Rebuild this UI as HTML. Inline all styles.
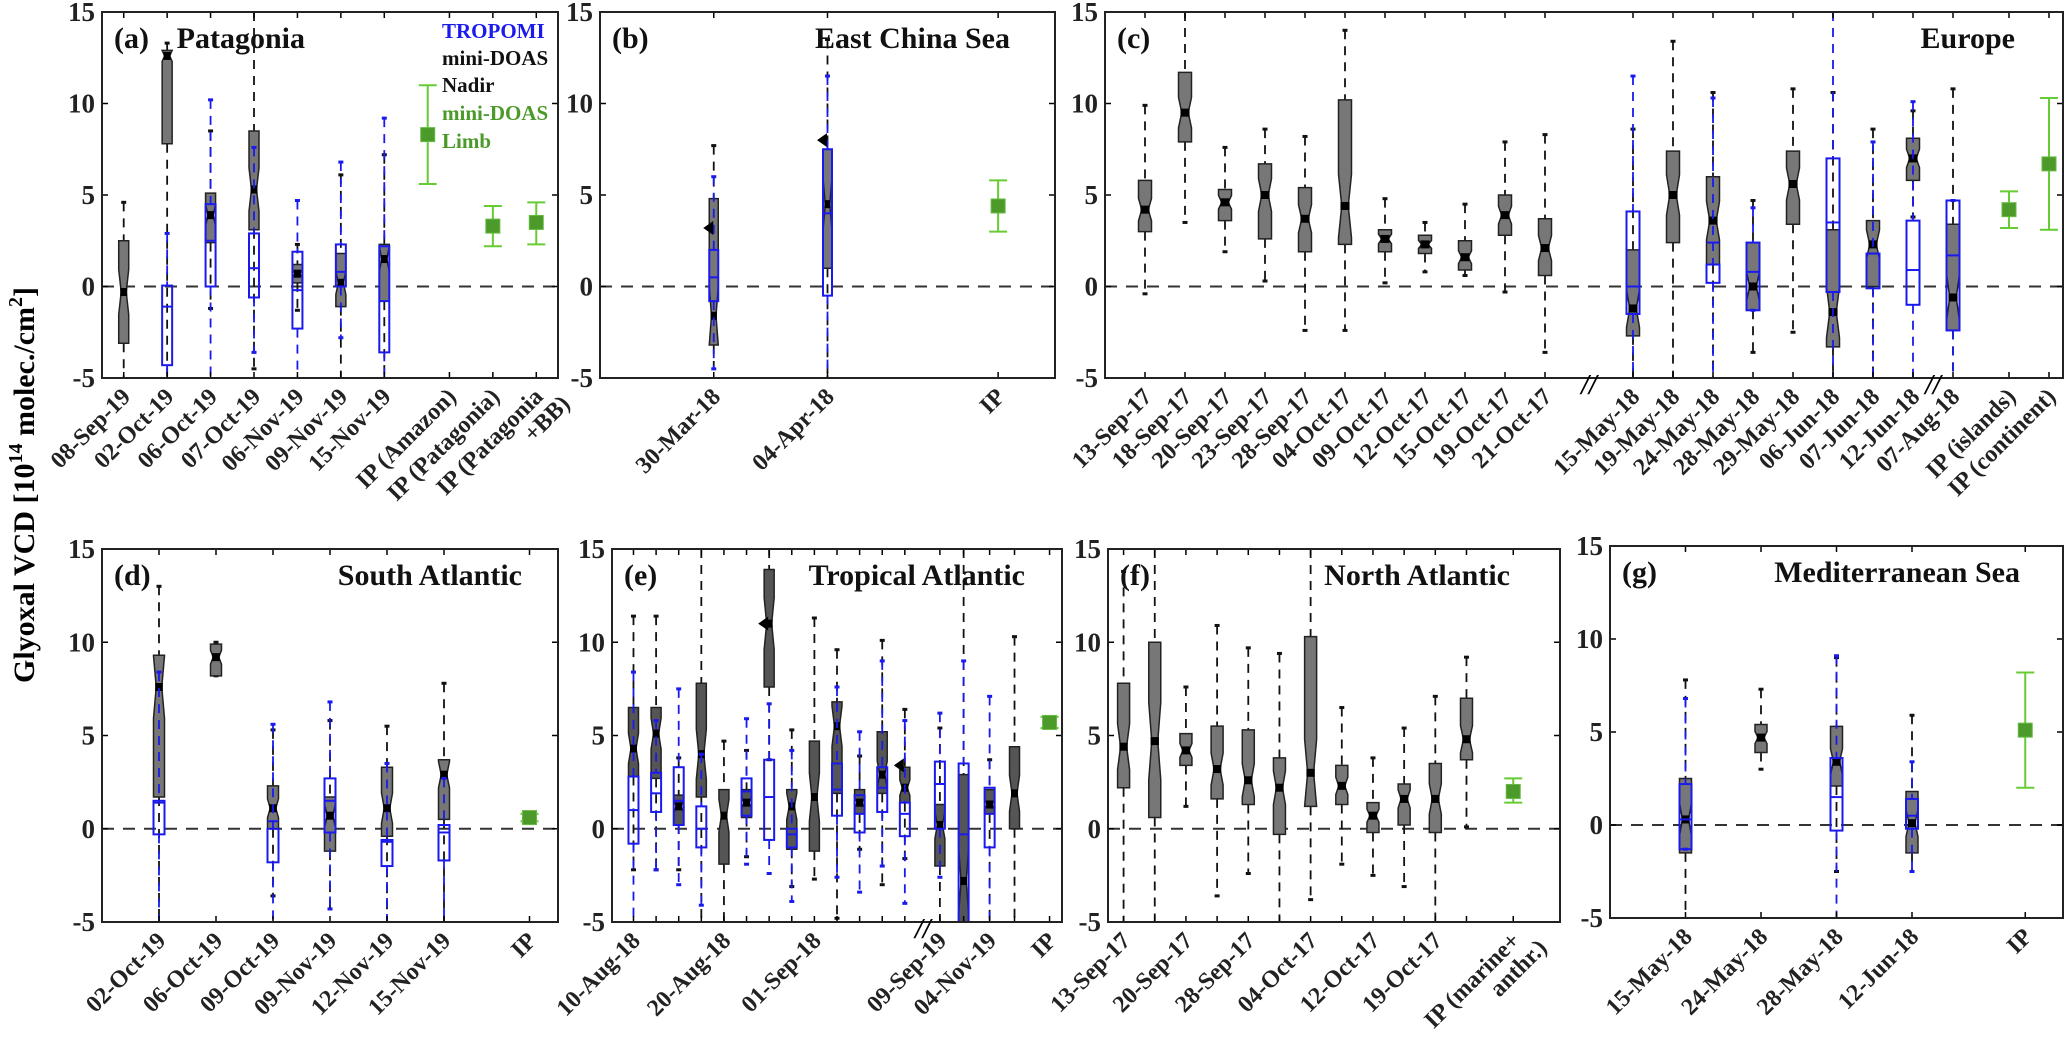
<!DOCTYPE html>
<html><head><meta charset="utf-8"><style>
html,body{margin:0;padding:0;background:#fff;}
svg{display:block;font-family:"Liberation Serif",serif;font-weight:bold;}
</style></head><body>
<svg id="chart" width="2067" height="1057" viewBox="0 0 2067 1057" xmlns="http://www.w3.org/2000/svg">
<text transform="translate(34,683) rotate(-90)" font-size="30" fill="#000">Glyoxal VCD [10<tspan font-size="20" dy="-12">14</tspan><tspan dy="12"> molec./cm</tspan><tspan font-size="20" dy="-12">2</tspan><tspan dy="12">]</tspan></text>
</svg>
<script>
// ---------- DATA ----------
// Panel (a) Patagonia
const aLabels=["08-Sep-19","02-Oct-19","06-Oct-19","07-Oct-19","06-Nov-19","09-Nov-19","15-Nov-19"];
const aPos=[1,2,3,4,5,6,7];
const aQ1=[-3.1,7.8,2.4,3.1,0.2,-1.1,-0.8];
const aMed=[-0.3,12.6,3.9,5.3,0.7,0.2,1.5];
const aQ3=[2.5,12.9,5.1,8.5,1.2,1.8,2.3];
const aLo=[-5,-5,-1.2,-4.5,-1.3,-5,-5];
const aHi=[4.6,13.3,8.5,15,2.3,6.1,7.2];
const aBQ1=[null,-4.3,0,-0.6,-2.3,0,-3.6];
const aBMed=[null,-1.1,2.5,1.0,-0.2,0.8,-0.8];
const aBQ3=[null,0.05,4.5,2.9,1.9,2.3,2.2];
const aBLo=[null,-5,-5,-3.6,-5,-2.8,-5];
const aBHi=[null,2.9,10.2,7.6,4.7,6.8,9.2];
const aIPLabels=[["IP (Amazon)"],["IP (Patagonia)"],["IP (Patagonia","+BB)"]];
const aIPPos=[8.5,9.5,10.5];
const aIPMarkPos=[8.0,9.5,10.5];
const aIPVal=[8.3,3.3,3.5];
const aIPLo=[5.6,2.2,2.3];
const aIPHi=[11.0,4.4,4.6];
// Panel (b) East China Sea
const bLabels=["30-Mar-18","04-Apr-18"];
const bPos=[1,2];
const bQ1=[-3.2,1.0];
const bMed=[-1.6,4.5];
const bQ3=[4.8,7.5];
const bLo=[-5,-5];
const bHi=[7.7,13.5];
const bBQ1=[-0.8,-0.5];
const bBMed=[0.5,4.0];
const bBQ3=[2.0,7.5];
const bBLo=[-4.5,-5];
const bBHi=[6.0,11.5];
const bTri=[3.2,8.0];
const bIPLabels=[["IP"]];
const bIPPos=[3.5];
const bIPVal=[4.4];
const bIPLo=[3.0];
const bIPHi=[5.8];
// Panel (c) Europe
const cLabels=["13-Sep-17","18-Sep-17","20-Sep-17","23-Sep-17","28-Sep-17","04-Oct-17","09-Oct-17","12-Oct-17","15-Oct-17","19-Oct-17","21-Oct-17","15-May-18","19-May-18","24-May-18","28-May-18","29-May-18","06-Jun-18","07-Jun-18","12-Jun-18","07-Aug-18"];
const cPos=[1,2,3,4,5,6,7,8,9,10,11,13.2,14.2,15.2,16.2,17.2,18.2,19.2,20.2,21.2];
const cQ1=[3.0,7.9,3.6,2.6,1.9,2.3,1.9,1.8,0.9,2.8,0.6,-2.7,2.4,1.2,-1.3,3.4,-3.3,0.0,5.8,-2.4];
const cMed=[4.2,9.5,4.6,5.0,3.7,4.4,2.6,2.3,1.6,3.9,2.1,-1.2,5.0,3.6,0.0,5.6,-1.4,2.3,7.0,-0.6];
const cQ3=[5.8,11.7,5.3,6.7,5.4,10.2,3.1,2.8,2.5,5.0,3.7,2.0,7.4,6.0,2.4,7.4,3.1,3.6,8.1,3.4];
const cLo=[-0.4,3.5,1.9,0.3,-2.4,-2.4,0.2,0.8,0.6,-0.3,-3.6,-5,-5,-5,-3.6,-2.5,-5,-5,3.8,-5];
const cHi=[9.9,15,7.6,8.6,8.2,14.0,4.8,3.5,4.5,7.9,8.3,8.6,13.4,10.6,4.7,10.8,10.6,8.6,9.6,10.8];
const cBQ1=[null,null,null,null,null,null,null,null,null,null,null,-1.5,null,0.2,-1.3,null,-0.3,-0.1,-1.0,-2.4];
const cBMed=[null,null,null,null,null,null,null,null,null,null,null,0,null,2.4,0.8,null,3.5,1.8,0.9,1.7];
const cBQ3=[null,null,null,null,null,null,null,null,null,null,null,4.1,null,1.2,2.4,null,7.0,1.8,3.6,4.7];
const cBLo=[null,null,null,null,null,null,null,null,null,null,null,-5,null,-5,-1.3,null,-5,-5,-5,-5];
const cBHi=[null,null,null,null,null,null,null,null,null,null,null,11.5,null,10.3,4.3,null,15,7.9,10.1,4.7];
const cIPLabels=[["IP (islands)"],["IP (continent)"]];
const cIPPos=[22.6,23.6];
const cIPVal=[4.2,6.7];
const cIPLo=[3.2,3.1];
const cIPHi=[5.2,10.3];
// Panel (d) South Atlantic
const dLabels=["02-Oct-19","06-Oct-19","09-Oct-19","09-Nov-19","12-Nov-19","15-Nov-19"];
const dPos=[1,2,3,4,5,6];
const dQ1=[1.7,8.2,0.0,-1.2,-0.4,0.5];
const dMed=[7.6,9.2,1.1,0.7,1.1,2.9];
const dQ3=[9.3,9.9,2.3,1.7,3.3,3.7];
const dLo=[-5,8.2,-3.6,-4.3,-5,-5];
const dHi=[13.0,10.0,5.3,5.8,5.5,7.8];
const dBQ1=[-0.3,null,-1.8,-0.2,-2.0,-1.7];
const dBMed=[1.4,null,0.4,1.5,-0.7,-0.2];
const dBQ3=[1.5,null,0.0,2.7,-0.6,0.2];
const dBLo=[-5,null,-5,-4.3,-5,-5];
const dBHi=[8.4,null,5.6,6.8,3.5,2.7];
const dIPLabels=[["IP"]];
const dIPPos=[7.5];
const dIPVal=[0.6];
const dIPLo=[0.4];
const dIPHi=[0.8];
// Panel (e) Tropical Atlantic
const eLabels=["10-Aug-18","","","","20-Aug-18","","","","01-Sep-18","","","","","09-Sep-19","","04-Nov-19",""];
const ePos=[1,2,3,4,5,6,7,8,9,10,11,12,13,14.55,15.6,16.75,17.85];
const eQ1=[2.8,2.7,0.2,1.7,-1.9,0.6,7.6,-1.1,-1.2,1.9,0.8,1.9,1.4,-2.0,-5,0.8,0.0];
const eMed=[4.3,5.1,1.2,4.0,0.7,1.4,11.0,1.2,1.7,5.5,1.4,2.9,2.2,0.2,-2.8,1.3,1.9];
const eQ3=[6.5,6.5,1.8,7.8,2.1,2.1,13.9,2.1,4.7,6.8,2.1,5.2,3.3,1.3,2.9,2.1,4.4];
const eLo=[-2.2,-2.2,-2.2,-5,-5,-1.5,3.7,-3.1,-2.7,-4.8,-1.1,-3.0,-1.6,-5,-5,-5,-5];
const eHi=[11.4,11.4,3.8,15,4.7,4.2,15,5.3,11.3,9.6,3.9,10.1,6.4,5.4,15,3.7,10.3];
const eBQ1=[-0.8,0.9,0.2,-1.0,null,0.7,-0.6,-1.0,null,0.7,-0.2,0.9,-0.4,0.0,-5,-1.0,null];
const eBMed=[1.0,1.9,1.5,0.0,null,2.0,1.7,-0.3,null,2.1,0.8,2.2,0.8,2.4,-0.3,0.8,null];
const eBQ3=[2.8,3.0,3.3,1.2,null,2.7,3.7,0.0,null,3.5,1.8,3.3,1.4,3.6,3.5,2.2,null];
const eBLo=[-5,-2.2,-3.0,-4.1,null,-1.9,-2.4,-3.9,null,-2.6,-3.4,-2.0,-4.0,-2.6,-5,-5,null];
const eBHi=[8.4,5.8,7.5,4.0,null,5.9,6.7,4.2,null,7.6,5.2,9.0,5.8,6.2,9.0,7.1,null];
const eTri=[null,null,null,null,null,null,11.0,null,null,null,null,null,3.4,null,null,null,null];
const eIPLabels=[["IP"]];
const eIPPos=[19.4];
const eIPVal=[5.7];
const eIPLo=[5.4];
const eIPHi=[6.0];
// Panel (f) North Atlantic
const fLabels=["13-Sep-17","","20-Sep-17","","28-Sep-17","","04-Oct-17","","12-Oct-17","","19-Oct-17",""];
const fPos=[1,2,3,4,5,6,7,8,9,10,11,12];
const fQ1=[2.2,0.6,3.4,1.6,1.3,-0.3,1.2,1.3,-0.2,0.2,-0.2,3.7];
const fMed=[4.4,4.7,4.2,3.2,2.6,2.2,3.0,2.3,0.7,1.6,1.6,4.8];
const fQ3=[7.8,10.0,5.1,5.5,5.3,3.8,10.3,3.4,1.4,2.4,3.5,7.0];
const fLo=[-5,-5,1.2,-3.6,-2.4,-5,-3.8,-1.9,-2.5,-3.1,-5,0.1];
const fHi=[13.8,15,7.6,10.9,9.7,9.4,15,6.5,3.8,5.4,7.1,9.2];
const fIPLabels=[["IP (marine+","anthr.)"]];
const fIPPos=[13.5];
const fIPVal=[2.0];
const fIPLo=[1.4];
const fIPHi=[2.7];
// Panel (g) Mediterranean Sea
const gLabels=["15-May-18","24-May-18","28-May-18","12-Jun-18"];
const gPos=[1,2,3,4];
const gQ1=[-1.5,3.9,2.1,-1.5];
const gMed=[0.3,4.7,3.4,0.1];
const gQ3=[2.5,5.4,5.3,1.8];
const gLo=[-5,3.0,-2.5,-2.5];
const gHi=[7.8,7.3,9.0,5.9];
const gBQ1=[-1.3,null,-0.3,-0.2];
const gBMed=[0.3,null,1.5,0.5];
const gBQ3=[2.2,null,3.6,1.4];
const gBLo=[-1.3,null,-5,-2.5];
const gBHi=[6.8,null,9.1,3.4];
const gIPLabels=[["IP"]];
const gIPPos=[5.5];
const gIPVal=[5.1];
const gIPLo=[2.0];
const gIPHi=[8.2];
const yTicks=[15,10,5,0,-5];

// ---------- DRAWING ----------
const NS="http://www.w3.org/2000/svg";
const svg=document.getElementById('chart');
function mk(tag,attrs,parent){const e=document.createElementNS(NS,tag);for(const k in attrs)e.setAttribute(k,attrs[k]);(parent||svg).appendChild(e);return e;}
const clip=v=>Math.max(-5,Math.min(15,v));

function panel(cfg){
  const g=mk('g',{});
  
  
  const X=v=>cfg.x0+(v-cfg.xmin)/(cfg.xmax-cfg.xmin)*(cfg.x1-cfg.x0);
  const Y=v=>cfg.y1-(clip(v)+5)/20*(cfg.y1-cfg.y0);
  const zl=mk('line',{x1:cfg.x0,x2:cfg.x1,y1:Y(0),y2:Y(0),stroke:'#333','stroke-width':2,'stroke-dasharray':'12,9'},g);
  
  
  yTicks.forEach(t=>{
    mk('line',{x1:cfg.x0,x2:cfg.x0+6,y1:Y(t),y2:Y(t),stroke:'#000','stroke-width':1.5},g);
    mk('line',{x1:cfg.x1,x2:cfg.x1-6,y1:Y(t),y2:Y(t),stroke:'#000','stroke-width':1.5},g);
    const tl=mk('text',{x:cfg.x0-7,y:Y(t)+9,'text-anchor':'end','font-size':27,fill:'#222'},g);
    tl.textContent=t;
    
    
  });
  const bw=cfg.bw;
  function whisk(x,lo,hi,q1,q3,col){
    mk('line',{x1:x,x2:x,y1:Y(hi),y2:Y(q3),stroke:col,'stroke-width':1.8,'stroke-dasharray':'9,7'},g);
    mk('line',{x1:x,x2:x,y1:Y(q1),y2:Y(lo),stroke:col,'stroke-width':1.8,'stroke-dasharray':'9,7'},g);
    if(hi<15) mk('line',{x1:x-2.5,x2:x+2.5,y1:Y(hi),y2:Y(hi),stroke:col,'stroke-width':3},g);
    if(lo>-5) mk('line',{x1:x-2.5,x2:x+2.5,y1:Y(lo),y2:Y(lo),stroke:col,'stroke-width':3},g);
  }
  function notched(x,q1,med,q3){
    const n=Math.min(0.22*(q3-q1),med-q1,q3-med);
    const h=bw/2,hi=bw/4;
    return [[x-h,Y(q1)],[x+h,Y(q1)],[x+h,Y(med-n)],[x+hi,Y(med)],[x+h,Y(med+n)],[x+h,Y(q3)],[x-h,Y(q3)],[x-h,Y(med+n)],[x-hi,Y(med)],[x-h,Y(med-n)]].map(p=>p.join(',')).join(' ');
  }
  cfg.pos.forEach((p,i)=>{
    const x=X(p);
    whisk(x,cfg.lo[i],cfg.hi[i],cfg.q1[i],cfg.q3[i],'#111');
    const b=mk('polygon',{points:notched(x,cfg.q1[i],cfg.med[i],cfg.q3[i]),fill:cfg.fill,stroke:'#222','stroke-width':1.5},g);
    
    
    mk('rect',{x:x-bw*0.35,y:Y(cfg.med[i])-4,width:bw*0.7,height:8,fill:'#000'},g);
  });
  if(cfg.bq1) cfg.pos.forEach((p,i)=>{
    if(cfg.bq1[i]===null) return;
    const x=X(p);
    const lo=Math.min(cfg.bq1[i],cfg.bq3[i]),hi=Math.max(cfg.bq1[i],cfg.bq3[i]);
    whisk(x,cfg.blo[i],cfg.bhi[i],lo,hi,'#1a1aee');
    const b=mk('rect',{x:x-bw/2,y:Y(hi),width:bw,height:Math.max(1,Y(lo)-Y(hi)),fill:'none',stroke:'#1a1aee','stroke-width':2},g);
    
    
    mk('line',{x1:x-bw/2,x2:x+bw/2,y1:Y(cfg.bmed[i]),y2:Y(cfg.bmed[i]),stroke:'#1a1aee','stroke-width':2},g);
  });
  if(cfg.tri) cfg.tri.forEach((v,i)=>{
    if(v===null) return;
    const x=X(cfg.pos[i])-bw/2,y=Y(v);
    mk('polygon',{points:`${x-6},${y} ${x+4},${y-7} ${x+4},${y+7}`,fill:'#000'},g);
  });
  const markPos=cfg.ipMarkPos||cfg.ipPos;
  markPos.forEach((p,i)=>{
    const x=X(p);
    mk('line',{x1:x,x2:x,y1:Y(cfg.ipHi[i]),y2:Y(cfg.ipLo[i]),stroke:'#66cc33','stroke-width':2},g);
    mk('line',{x1:x-9,x2:x+9,y1:Y(cfg.ipHi[i]),y2:Y(cfg.ipHi[i]),stroke:'#66cc33','stroke-width':2},g);
    mk('line',{x1:x-9,x2:x+9,y1:Y(cfg.ipLo[i]),y2:Y(cfg.ipLo[i]),stroke:'#66cc33','stroke-width':2},g);
    const m=mk('rect',{x:x-7,y:Y(cfg.ipVal[i])-7,width:14,height:14,fill:'#4c9a2a',stroke:'#66bb44','stroke-width':1},g);
    
    
  });
  const allPos=cfg.pos.concat(cfg.ipPos);
  const allLab=cfg.labels.map(l=>[l]).concat(cfg.ipLabels);
  allPos.forEach((p,i)=>{
    const x=X(p);
    mk('line',{x1:x,x2:x,y1:cfg.y1,y2:cfg.y1-6,stroke:'#000','stroke-width':1.5},g);
    mk('line',{x1:x,x2:x,y1:cfg.y0,y2:cfg.y0+6,stroke:'#000','stroke-width':1.5},g);
    const lab=allLab[i];
    if(!lab[0]) return;
    const t=mk('text',{transform:`translate(${x+8},${cfg.y1+20}) rotate(-45)`,'text-anchor':'end','font-size':24,fill:'#222'},g);
    
    
    lab.forEach((s,k)=>{const ts=mk('tspan',{x:k*14,dy:k?'1em':'0'},t);ts.textContent=s;});
  });
  mk('rect',{x:cfg.x0,y:cfg.y0,width:cfg.x1-cfg.x0,height:cfg.y1-cfg.y0,fill:'none',stroke:'#222','stroke-width':2},g);
  (cfg.breaks||[]).forEach(bx=>{
    const x=X(bx);
    const br=mk('text',{x:x,y:cfg.y1+16,'text-anchor':'middle','font-size':28,'font-style':'italic',fill:'#000'},g);
    br.textContent='//';
    
    
  });
  const tl=mk('text',{x:cfg.x0+12,y:cfg.y0+36,'font-size':30,fill:'#111'},g);
  tl.textContent=cfg.tag;
  
  
  const tt=mk('text',{x:cfg.titleX,y:cfg.y0+36,'font-size':30,fill:'#111','text-anchor':'end'},g);
  tt.textContent=cfg.title;
  
  
}

panel({id:'a',tag:'(a)',title:'Patagonia',titleX:305,x0:102,x1:558,y0:12,y1:378,xmin:0.5,xmax:11,bw:10,fill:'#777',
  labels:aLabels,pos:aPos,q1:aQ1,med:aMed,q3:aQ3,lo:aLo,hi:aHi,bq1:aBQ1,bmed:aBMed,bq3:aBQ3,blo:aBLo,bhi:aBHi,
  ipLabels:aIPLabels,ipPos:aIPPos,ipMarkPos:aIPMarkPos,ipVal:aIPVal,ipLo:aIPLo,ipHi:aIPHi});
panel({id:'b',tag:'(b)',title:'East China Sea',titleX:1010,x0:600,x1:1055,y0:12,y1:378,xmin:0,xmax:4,bw:9,fill:'#777',
  labels:bLabels,pos:bPos,q1:bQ1,med:bMed,q3:bQ3,lo:bLo,hi:bHi,bq1:bBQ1,bmed:bBMed,bq3:bBQ3,blo:bBLo,bhi:bBHi,tri:bTri,
  ipLabels:bIPLabels,ipPos:bIPPos,ipVal:bIPVal,ipLo:bIPLo,ipHi:bIPHi});
panel({id:'c',tag:'(c)',title:'Europe',titleX:2015,x0:1105,x1:2063,y0:12,y1:378,xmin:0,xmax:23.95,bw:13,fill:'#777',
  labels:cLabels,pos:cPos,q1:cQ1,med:cMed,q3:cQ3,lo:cLo,hi:cHi,bq1:cBQ1,bmed:cBMed,bq3:cBQ3,blo:cBLo,bhi:cBHi,breaks:[12.1,20.7],
  ipLabels:cIPLabels,ipPos:cIPPos,ipVal:cIPVal,ipLo:cIPLo,ipHi:cIPHi});
panel({id:'d',tag:'(d)',title:'South Atlantic',titleX:522,x0:102,x1:558,y0:549,y1:922,xmin:0,xmax:8,bw:11,fill:'#777',
  labels:dLabels,pos:dPos,q1:dQ1,med:dMed,q3:dQ3,lo:dLo,hi:dHi,bq1:dBQ1,bmed:dBMed,bq3:dBQ3,blo:dBLo,bhi:dBHi,
  ipLabels:dIPLabels,ipPos:dIPPos,ipVal:dIPVal,ipLo:dIPLo,ipHi:dIPHi});
panel({id:'e',tag:'(e)',title:'Tropical Atlantic',titleX:1025,x0:612,x1:1062,y0:549,y1:922,xmin:0.05,xmax:19.95,bw:10,fill:'#555',
  labels:eLabels,pos:ePos,q1:eQ1,med:eMed,q3:eQ3,lo:eLo,hi:eHi,bq1:eBQ1,bmed:eBMed,bq3:eBQ3,blo:eBLo,bhi:eBHi,tri:eTri,breaks:[13.8],
  ipLabels:eIPLabels,ipPos:eIPPos,ipVal:eIPVal,ipLo:eIPLo,ipHi:eIPHi});
panel({id:'f',tag:'(f)',title:'North Atlantic',titleX:1510,x0:1108,x1:1560,y0:549,y1:922,xmin:0.5,xmax:15,bw:12,fill:'#777',
  labels:fLabels,pos:fPos,q1:fQ1,med:fMed,q3:fQ3,lo:fLo,hi:fHi,
  ipLabels:fIPLabels,ipPos:fIPPos,ipVal:fIPVal,ipLo:fIPLo,ipHi:fIPHi});
panel({id:'g',tag:'(g)',title:'Mediterranean Sea',titleX:2020,x0:1610,x1:2063,y0:546,y1:918,xmin:0,xmax:6,bw:12,fill:'#777',
  labels:gLabels,pos:gPos,q1:gQ1,med:gMed,q3:gQ3,lo:gLo,hi:gHi,bq1:gBQ1,bmed:gBMed,bq3:gBQ3,blo:gBLo,bhi:gBHi,
  ipLabels:gIPLabels,ipPos:gIPPos,ipVal:gIPVal,ipLo:gIPLo,ipHi:gIPHi});

const leg=[["TROPOMI","#1a1aee",38],["mini-DOAS","#111",65],["Nadir","#111",92],["mini-DOAS","#4c9a2a",120],["Limb","#4c9a2a",148]];
leg.forEach(([s,c,y])=>{
  const t=mk('text',{x:442,y:y,'font-size':21,fill:c});
  t.textContent=s;
  
  
});
</script>
</body></html>
